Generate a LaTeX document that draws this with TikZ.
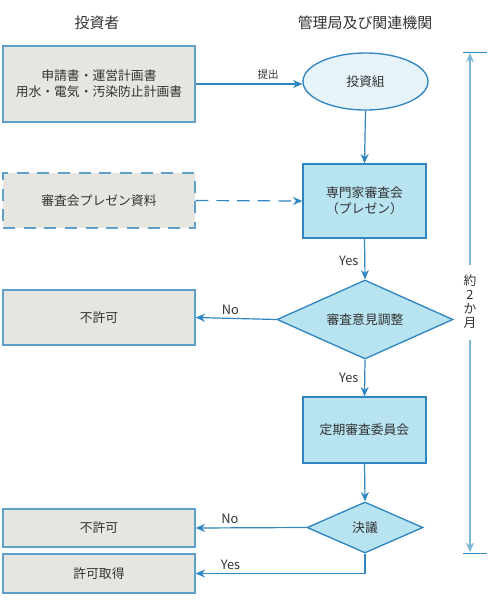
\documentclass[tikz,border=0pt]{standalone}
\usepackage{fontspec}
\setmainfont{Noto Sans CJK JP}
\usetikzlibrary{arrows.meta,shapes.geometric}
\definecolor{edgeblue}{HTML}{2F86C0}
\definecolor{boxborder}{HTML}{5E9FCC}
\definecolor{grayfill}{HTML}{E6E6E0}
\definecolor{bluefill}{HTML}{B8E3F0}
\definecolor{palefill}{HTML}{E6F4FA}
\definecolor{timeline}{HTML}{7DB6D6}
\definecolor{txt}{HTML}{333333}
\tikzset{
  every node/.style={text=txt, font=\fontsize{9.6pt}{12pt}\selectfont},
  graybox/.style={draw=boxborder, line width=1pt, fill=grayfill, rectangle, inner sep=0pt, align=center},
  bluebox/.style={draw=edgeblue, line width=1pt, fill=bluefill, rectangle, inner sep=0pt, align=center},
  conn/.style={draw=edgeblue, line width=0.9pt, -{Stealth[length=7pt,width=6pt]}},
  lbl/.style={font=\fontsize{9.6pt}{11pt}\selectfont}
}
\begin{document}
\begin{tikzpicture}[x=0.75pt,y=-0.75pt]
\useasboundingbox (0,0) rectangle (499,601);
% headers
\node[font=\fontsize{11.2pt}{13pt}\selectfont] (h1) at (97,23) {投資者};
\node[font=\fontsize{11.2pt}{13pt}\selectfont] (h2) at (365,23) {管理局及び関連機関};
% left column
\node[graybox, minimum width=192*0.75pt, minimum height=76*0.75pt] (app) at (99,84) {申請書・運営計画書\\用水・電気・汚染防止計画書};
\node[graybox, dashed, dash pattern=on 9pt off 6.5pt, minimum width=192*0.75pt, minimum height=55*0.75pt] (pres) at (99,200.5) {審査会プレゼン資料};
\node[graybox, minimum width=192*0.75pt, minimum height=55*0.75pt] (ng1) at (99,317.5) {不許可};
\node[graybox, minimum width=192*0.75pt, minimum height=38*0.75pt] (ng2) at (99,528) {不許可};
\node[graybox, minimum width=192*0.75pt, minimum height=39*0.75pt] (ok) at (99,573.5) {許可取得};
% right column
\node[draw=edgeblue, line width=1pt, fill=palefill, ellipse, minimum width=125*0.75pt, minimum height=57*0.75pt, inner sep=0pt] (inv) at (365.5,81.5) {投資組};
\node[bluebox, minimum width=123*0.75pt, minimum height=74*0.75pt] (exp) at (364.5,201) {専門家審査会\\（プレゼン）};
\node[draw=edgeblue, line width=1pt, fill=bluefill, diamond, inner sep=0pt, minimum width=176*0.75pt, minimum height=79*0.75pt, aspect=2.2] (adj) at (365,319.5) {審査意見調整};
\node[bluebox, minimum width=123*0.75pt, minimum height=66*0.75pt] (reg) at (364.5,430) {定期審査委員会};
\node[draw=edgeblue, line width=1pt, fill=bluefill, diamond, inner sep=0pt, minimum width=116*0.75pt, minimum height=51*0.75pt, aspect=2.27] (dec) at (365,527.5) {決議};
% connectors
\draw[conn] (app.east |- 0,84) -- node[above, font=\fontsize{7.9pt}{9pt}\selectfont, pos=0.68] (lt) {提出} (inv.west |- 0,84);
\draw[conn] (inv.south) -- (exp.north);
\draw[conn, dashed, dash pattern=on 9.5pt off 6pt] (pres.east) -- (exp.west);
\draw[conn] (exp.south) -- node[left, lbl, pos=0.55, xshift=-1pt] (y1) {Yes} (adj.north);
\draw[conn] (adj.west) -- node[above, lbl, pos=0.57, yshift=-1pt] (n1) {No} (ng1.east);
\draw[conn] (adj.south) -- node[left, lbl, pos=0.5, xshift=-1pt] (y2) {Yes} (reg.north);
\draw[conn] (reg.south) -- (dec.north);
\draw[conn] (dec.west) -- node[above, lbl, pos=0.69, yshift=-1pt] (n2) {No} (ng2.east);
\draw[conn] (dec.south) |- node[above, lbl, pos=0.897, yshift=-1pt] (y3) {Yes} (ok.east);
% timeline
\coordinate (ttop) at (470,53);
\coordinate (tbot) at (470,552);
\draw[edgeblue, line width=1pt] (463,52.5) -- (487,52.5);
\draw[edgeblue, line width=1pt] (463,553.5) -- (487,553.5);
\node[align=center, font=\fontsize{9.6pt}{10.5pt}\selectfont, inner sep=0pt] (dur) at (470,302) {約\\2\\か\\月};
\draw[timeline, line width=1.2pt, -{Stealth[length=7pt,width=6pt]}] (470,265) -- (ttop);
\draw[timeline, line width=1.2pt, -{Stealth[length=7pt,width=6pt]}] (470,340) -- (tbot);
\end{tikzpicture}
\end{document}
